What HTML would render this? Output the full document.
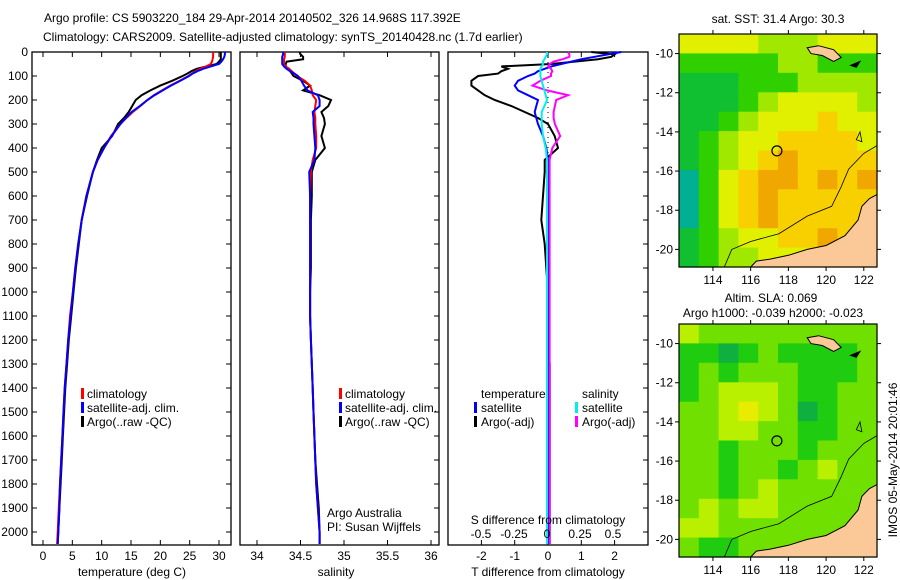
<!DOCTYPE html>
<html><head><meta charset="utf-8"><style>
html,body{margin:0;padding:0;background:#fff;}
svg{display:block;font-family:"Liberation Sans",sans-serif;}
text{font-size:12px;fill:#000;}
</style></head><body>
<svg id="c" width="900" height="580" viewBox="0 0 900 580" xmlns="http://www.w3.org/2000/svg">
<text x="44" y="22">Argo profile: CS 5903220_184 29-Apr-2014 20140502_326 14.968S 117.392E</text>
<text x="43" y="41">Climatology: CARS2009. Satellite-adjusted climatology: synTS_20140428.nc (1.7d earlier)</text>
</svg>
<script>
// ---------- data ----------
const depths=[0,10,20,30,40,50,60,70,80,90,100,120,140,160,180,200,225,250,275,300,350,400,450,500,600,700,800,900,1000,1100,1200,1300,1400,1500,1600,1700,1800,1900,2000,2050];
const tempClim=[29.0,29.0,29.0,28.9,28.8,28.6,27.8,26.8,26.0,25.4,24.8,23.3,21.7,20.3,18.9,17.8,16.6,15.3,14.2,13.2,11.6,10.4,9.3,8.5,7.4,6.6,6.0,5.5,5.1,4.6,4.3,4.0,3.7,3.5,3.3,3.1,2.9,2.7,2.5,2.4];
const tempSat=[31.0,31.0,30.9,30.7,30.4,30.0,28.6,27.3,26.3,25.5,24.9,23.4,21.8,20.4,19.0,17.8,16.5,15.1,14.1,13.2,11.7,10.4,9.3,8.5,7.4,6.6,6.0,5.5,5.1,4.7,4.3,4.0,3.7,3.5,3.3,3.1,2.9,2.8,2.6,2.5];
const tempArgo=[30.3,30.3,30.3,30.3,30.0,29.6,27.9,26.2,25.3,24.6,23.8,22.0,20.0,18.3,16.8,15.8,15.2,14.6,13.8,12.8,11.8,10.0,9.2,8.5,7.5,6.6,6.1,5.6,5.2,4.8,4.4,4.1,3.8,3.6,3.4,3.2,3.0,2.8,2.6,2.5];
const salClim=[34.32,34.32,34.32,34.31,34.31,34.31,34.33,34.37,34.40,34.43,34.46,34.55,34.61,34.63,34.64,34.68,34.67,34.66,34.67,34.67,34.68,34.68,34.64,34.62,34.61,34.61,34.61,34.61,34.61,34.61,34.62,34.63,34.64,34.65,34.66,34.67,34.68,34.70,34.72,34.72];
const salSat=[34.30,34.30,34.29,34.29,34.29,34.29,34.31,34.34,34.38,34.43,34.47,34.51,34.54,34.58,34.70,34.72,34.72,34.64,34.65,34.65,34.66,34.67,34.66,34.60,34.61,34.61,34.61,34.61,34.61,34.61,34.62,34.63,34.64,34.65,34.66,34.67,34.68,34.70,34.72,34.72];
const salArgo=[34.49,34.50,34.53,34.53,34.34,34.33,34.33,34.35,34.38,34.40,34.42,34.53,34.61,34.53,34.72,34.85,34.82,34.74,34.77,34.78,34.74,34.78,34.67,34.63,34.63,34.62,34.62,34.62,34.61,34.61,34.62,34.63,34.64,34.65,34.66,34.67,34.69,34.71,34.72,34.72];
const tdiffSat=[2.2,1.8,1.4,1.0,0.7,0.4,0.1,-0.1,-0.3,-0.4,-0.6,-0.9,-1.0,-0.9,-0.6,-0.3,-0.35,-0.4,-0.35,-0.3,-0.15,-0.05,0,0,0,0,0,0,0,0,0,0,0,0,0,0,0,0,0,0];
const tdiffArgo=[1.3,2.0,1.9,1.5,0.8,0.1,-1.4,-1.2,-1.4,-1.5,-2.1,-2.3,-2.3,-2.1,-1.9,-1.6,-1.1,-0.7,-0.3,0.0,0.2,0.3,-0.1,-0.1,-0.15,-0.2,-0.1,-0.05,0.0,0.0,0.0,0.05,0.05,0.05,0.05,0.05,0.05,0.05,0.05,0.05];
const sdiffSat=[0.0,0.0,-0.01,-0.02,-0.03,-0.03,-0.04,-0.05,-0.05,-0.05,-0.05,-0.04,-0.03,-0.02,-0.01,0.0,-0.02,-0.04,-0.04,-0.04,-0.03,-0.01,0,0,0,0,0,0,0,0,0,0,0,0,0,0,0,0,0,0];
const sdiffArgo=[0.16,0.17,0.17,0.12,0.05,0.02,0.01,0.03,0.04,0.03,0.03,-0.05,-0.11,0.0,0.16,0.07,0.06,0.05,0.05,0.06,0.1,0.04,0.02,0.02,0.02,0.02,0.02,0.02,0.02,0.02,0.02,0.02,0.02,0.02,0.02,0.02,0.02,0.02,0.02,0.02];
const depthTicks=[0,100,200,300,400,500,600,700,800,900,1000,1100,1200,1300,1400,1500,1600,1700,1800,1900,2000];
const tempTicks=[0,5,10,15,20,25,30];
const salTicks=[34,34.5,35,35.5,36];
const tdTicks=[-2,-1,0,1,2];
const sdTicks=[-0.5,-0.25,0,0.25,0.5];
const lonTicks=[114,116,118,120,122];
const latTicks=[-10,-12,-14,-16,-18,-20];
// SST heatmap levels (rows north->south, cols west->east)
const sstGrid=[
[4,4,4,4,3,3,3,4,4,4],
[2,2,2,2,2,3,3,2,2,2],
[1,1,1,2,2,2,3,3,3,3],
[1,1,1,2,3,4,4,4,4,3],
[1,1,2,3,4,4,4,5,4,4],
[1,2,3,4,4,5,5,5,5,4],
[1,2,3,4,5,6,5,5,5,5],
[0,2,4,5,6,6,5,6,5,6],
[0,2,4,5,6,5,5,5,5,5],
[0,2,4,5,6,5,5,5,5,5],
[1,2,3,4,4,5,5,6,5,5],
[1,2,3,3,4,4,4,4,5,5]];
const slaGrid=[
[3,2,2,2,2,2,2,2,2,2],
[1,1,0,1,2,1,1,1,1,2],
[1,2,1,2,2,2,1,1,1,2],
[1,2,3,3,3,2,1,1,2,2],
[2,2,3,4,3,2,0,1,2,2],
[2,2,3,3,2,2,1,1,2,2],
[2,2,1,2,2,2,1,2,2,2],
[2,2,1,2,2,1,2,3,2,2],
[2,2,1,2,3,2,2,2,2,2],
[2,3,2,3,3,2,2,2,2,2],
[3,3,2,2,2,2,2,2,2,2],
[2,1,1,2,2,2,2,2,2,2]];
const argoLon=117.392, argoLat=-14.968;

// ---------- helpers ----------
const NS="http://www.w3.org/2000/svg";
const svg=document.getElementById('c');
function mk(tag,attrs,parent){const e=document.createElementNS(NS,tag);for(const k in attrs)e.setAttribute(k,attrs[k]);(parent||svg).appendChild(e);return e;}
const yD=d=>52+0.24*d;
const PB=545;

function panel(name,x0,x1,xf,ticks,tickFmt,labelY,rightTicks){
  const g=mk('g',{});
  
  
  const r=mk('rect',{x:x0,y:52,width:x1-x0,height:PB-52,fill:'#fff',stroke:'#000','stroke-width':1.3},g);
  
  
  ticks.forEach(t=>{const x=xf(t);
    mk('line',{x1:x,x2:x,y1:PB,y2:PB-5,stroke:'#000'},g);
    mk('line',{x1:x,x2:x,y1:52,y2:57,stroke:'#000'},g);
    if(labelY){const tx=mk('text',{x:x,y:labelY,'text-anchor':'middle'},g);tx.textContent=tickFmt(t);
      
      }
  });
  if(rightTicks)depthTicks.forEach(d=>{mk('line',{x1:x1,x2:x1-5,y1:yD(d),y2:yD(d),stroke:'#000'},g);});
  return g;
}
function line(g,xs,xf,color,name,w){
  const pts=xs.map((v,i)=>xf(v).toFixed(1)+','+yD(depths[i]).toFixed(1)).join(' ');
  const p=mk('polyline',{points:pts,fill:'none',stroke:color,'stroke-width':w||2},g);
  
  
}
function txt(x,y,s,name,anchor,parent){const t=mk('text',{x:x,y:y,'text-anchor':anchor||'start'},parent);t.textContent=s;
  
  return t;}
function legMark(x,y,c,name){const r=mk('rect',{x:x,y:y-10,width:3,height:11,fill:c});
  
  }

// ---------- temperature ----------
const xT=t=>43+t*5.867;
const gT=panel('temperature',32,231,xT,tempTicks,t=>t,560,true);
depthTicks.forEach(d=>{mk('line',{x1:32,x2:37,y1:yD(d),y2:yD(d),stroke:'#000'},gT);
  txt(28,yD(d)+4,String(d),'depth-tick-label','end');});
line(gT,tempArgo,xT,'#000','temp-argo-line');
line(gT,tempClim,xT,'#f00','temp-climatology-line');
line(gT,tempSat,xT,'#00f','temp-satellite-line');
txt(132,576,'temperature (deg C)','temperature-axis-title','middle');
legMark(81,398,'#f00','legend-climatology-marker');txt(87,398,'climatology','legend-climatology');
legMark(81,412,'#00f','legend-satellite-marker');txt(87,412,'satellite-adj. clim.','legend-satellite');
legMark(81,426,'#000','legend-argo-marker');txt(87,426,'Argo(..raw -QC)','legend-argo');

// ---------- salinity ----------
const xS=s=>257+(s-34)*87;
const gS=panel('salinity',240,439,xS,salTicks,s=>s,560,true);
line(gS,salArgo,xS,'#000','sal-argo-line');
line(gS,salClim,xS,'#f00','sal-climatology-line');
line(gS,salSat,xS,'#00f','sal-satellite-line');
txt(336,576,'salinity','salinity-axis-title','middle');
legMark(339,398,'#f00','legend2-climatology-marker');txt(345,398,'climatology','legend2-climatology');
legMark(339,412,'#00f','legend2-satellite-marker');txt(345,412,'satellite-adj. clim.','legend2-satellite');
legMark(339,426,'#000','legend2-argo-marker');txt(345,426,'Argo(..raw -QC)','legend2-argo');
txt(327,517,'Argo Australia','credit-argo-australia');
txt(327,531,'PI: Susan Wijffels','credit-pi');

// ---------- difference ----------
const xTd=t=>548+t*33.3;
const xSd=s=>547+s*132;
const gD=panel('difference',448,648,xTd,tdTicks,t=>t,560,true);
const z=mk('line',{x1:548,x2:548,y1:52,y2:PB,stroke:'#000','stroke-dasharray':'1,4'},gD);


line(gD,tdiffArgo,xTd,'#000','tdiff-argo-line');
line(gD,tdiffSat,xTd,'#00f','tdiff-satellite-line');
line(gD,sdiffArgo,xSd,'#f0f','sdiff-argo-line');
line(gD,sdiffSat,xSd,'#0ee','sdiff-satellite-line');
sdTicks.forEach(s=>{txt(xSd(s),538,String(s),'s-diff-tick-label','middle');});
txt(548,524,'S difference from climatology','s-diff-axis-title','middle');
txt(548,576,'T difference from climatology','t-diff-axis-title','middle');
txt(481,398,'temperature','legend3-temperature-header');
legMark(474,412,'#00f','legend3-tsat-marker');txt(481,412,'satellite','legend3-tsat');
legMark(474,426,'#000','legend3-targo-marker');txt(481,426,'Argo(-adj)','legend3-targo');
txt(582,398,'salinity','legend3-salinity-header');
legMark(575,412,'#0ee','legend3-ssat-marker');txt(582,412,'satellite','legend3-ssat');
legMark(575,426,'#f0f','legend3-sargo-marker');txt(582,426,'Argo(-adj)','legend3-sargo');

// ---------- maps ----------
const sstCols=['#00b090','#10c030','#30d000','#a0e800','#e0f000','#f8d000','#f0a800','#e89000'];
const slaCols=['#10b040','#20cc10','#70e000','#b8f000','#e8ec00'];
const LON0=112.2,LON1=122.7,LAT0=-9.0,LAT1=-20.9;
const coast=[[116,-20.9],[116.3,-20.6],[117,-20.5],[118,-20.3],[119,-20.0],[120,-19.8],[121,-19.3],[121.7,-18.5],[121.9,-17.8],[122.3,-17.4],[122.7,-17.2],[122.7,-20.9]];
const isobath=[[114.6,-20.9],[115,-20.0],[116,-19.6],[117.5,-19.2],[119,-18.3],[120.3,-17.8],[120.8,-16.8],[121.2,-15.9],[122,-15.1],[122.7,-14.7]];
const island=[[119.0,-9.7],[119.6,-9.6],[120.4,-9.8],[120.8,-10.2],[120.4,-10.4],[119.8,-10.1],[119.2,-10.0]];
const island2=[[121.3,-10.6],[121.8,-10.4],[121.6,-10.7]];
const reef=[[121.6,-14.4],[121.8,-14.0],[121.9,-14.5]];
function map(name,top,grid,cols){
  const x0=679,x1=877,y0=top,y1=top+233;
  const X=l=>x0+(l-LON0)/(LON1-LON0)*(x1-x0);
  const Y=l=>y0+(l-LAT0)/(LAT1-LAT0)*(y1-y0);
  const g=mk('g',{});
  
  
  const nr=grid.length,nc=grid[0].length,cw=(x1-x0)/nc,ch=(y1-y0)/nr;
  grid.forEach((row,i)=>row.forEach((v,j)=>{
    const r=mk('rect',{x:(x0+j*cw).toFixed(1),y:(y0+i*ch).toFixed(1),width:cw+0.6,height:ch+0.6,fill:cols[v]},g);
    
    
  }));
  const poly=(pts,fill,nm,w)=>{const p=mk(fill?'polygon':'polyline',{points:pts.map(p=>X(p[0]).toFixed(1)+','+Y(p[1]).toFixed(1)).join(' '),fill:fill||'none',stroke:'#000','stroke-width':w||1},g);
    
    };
  poly(isobath,null,name+'-isobath',0.8);
  poly(coast,'#fbc898',name+'-coastline');
  poly(island,'#fbc898',name+'-island');
  poly(island2,'#000',name+'-island-small');
  poly(reef,'none',name+'-reef',0.8);
  const f=mk('rect',{x:x0,y:y0,width:x1-x0,height:y1-y0,fill:'none',stroke:'#000','stroke-width':1.2},g);
  
  
  const c=mk('circle',{cx:X(argoLon),cy:Y(argoLat),r:5,fill:'none',stroke:'#000','stroke-width':1.2},g);
  
  
  latTicks.forEach(l=>{mk('line',{x1:x0,x2:x0-4,y1:Y(l),y2:Y(l),stroke:'#000'},g);
    mk('line',{x1:x1,x2:x1+4,y1:Y(l),y2:Y(l),stroke:'#000'},g);
    txt(673,Y(l)+4,String(l),name+'-lat-label','end',g);});
  lonTicks.forEach(l=>{mk('line',{x1:X(l),x2:X(l),y1:y1,y2:y1+4,stroke:'#000'},g);
    mk('line',{x1:X(l),x2:X(l),y1:y0,y2:y0-4,stroke:'#000'},g);
    txt(X(l),y1+17,String(l),name+'-lon-label','middle',g);});
}
map('sst-map',34,sstGrid,sstCols);
map('sla-map',324,slaGrid,slaCols);
txt(778,23,'sat. SST: 31.4  Argo: 30.3','sst-map-title','middle');
txt(771,302,'Altim. SLA: 0.069','sla-map-title','middle');
txt(773,317,'Argo h1000: -0.039 h2000: -0.023','sla-map-subtitle','middle');
const im=txt(0,0,'IMOS 05-May-2014 20:01:46','timestamp','middle');
im.setAttribute('transform','translate(897,460) rotate(-90)');
</script>
</body></html>
